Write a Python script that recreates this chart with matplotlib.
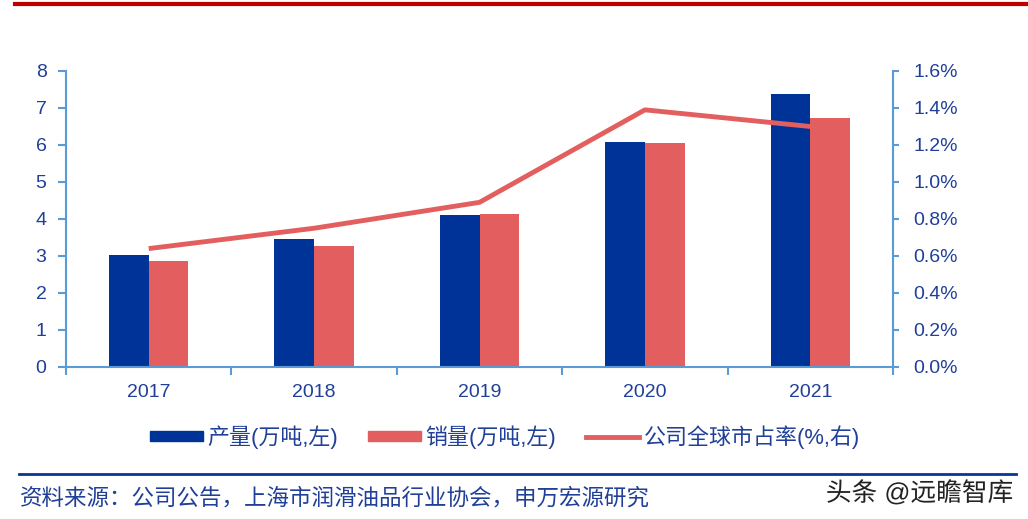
import matplotlib
matplotlib.use("Agg")
import matplotlib.pyplot as plt
from matplotlib.ticker import FuncFormatter
from matplotlib.patches import Patch
from matplotlib.lines import Line2D
import matplotlib.patheffects as pe
import numpy as np

plt.rcParams['font.family'] = ['Liberation Sans', 'Noto Sans CJK SC', 'DejaVu Sans']

years = ['2017', '2018', '2019', '2020', '2021']
production = [3.03, 3.46, 4.11, 6.08, 7.38]   # 产量(万吨)
sales = [2.87, 3.27, 4.14, 6.05, 6.73]        # 销量(万吨)
share = [0.64, 0.75, 0.89, 1.39, 1.30]        # 公司全球市占率(%)

BLUE = '#003397'
RED = '#E35F5F'
AXIS = '#5B9BD5'
TXT = '#1F3F99'

fig = plt.figure(figsize=(10.28, 5.19), dpi=100)
ax = fig.add_axes([0.0642, 0.2929, 0.8045, 0.5703])
ax2 = ax.twinx()

x = np.arange(len(years))
w = 0.24
ax.bar(x - w / 2, production, w, color=BLUE, zorder=2)
ax.bar(x + w / 2, sales, w, color=RED, zorder=2)
ax2.plot(x, share, color=RED, lw=3.5, solid_capstyle='butt', zorder=3)

ax.set_xlim(-0.5, 4.5)
ax.set_ylim(0, 8)
ax.set_yticks(range(0, 9))
ax2.set_ylim(0, 1.6)
ax2.set_yticks(np.arange(0, 1.61, 0.2))
ax2.yaxis.set_major_formatter(FuncFormatter(lambda v, p: f'{v:.1f}%'))

ax.set_xticks(x)
ax.set_xticklabels(years)
ax.set_xticks(np.arange(-0.5, 4.6, 1), minor=True)
ax.tick_params(axis='x', which='major', length=0, pad=12, labelsize=14, labelcolor=TXT)
ax.tick_params(axis='x', which='minor', length=6, color=AXIS, width=1.5, direction='out')
ax.tick_params(axis='y', length=6, color=AXIS, width=1.5, labelsize=14, labelcolor=TXT, pad=8)
ax2.tick_params(axis='y', length=4.5, color=AXIS, width=1.5, labelsize=14, labelcolor=TXT, pad=10)

for a in (ax, ax2):
    for s in a.spines.values():
        s.set_visible(False)
for a, side in ((ax, 'left'), (ax, 'bottom'), (ax2, 'right')):
    a.spines[side].set_visible(True)
    a.spines[side].set_color(AXIS)
    a.spines[side].set_linewidth(1.5)

handles = [Patch(color=BLUE), Patch(color=RED), Line2D([0], [0], color=RED, lw=3.5)]
labels = ['产量(万吨,左)', '销量(万吨,左)', '公司全球市占率(%,右)']
fig.legend(handles, labels, loc='center', bbox_to_anchor=(0.491, 0.158), ncol=3,
           frameon=False, fontsize=15.8, handlelength=2.42, handleheight=0.33,
           columnspacing=1.37, handletextpad=0.2, labelcolor=TXT)

# decorations
fig.add_artist(Line2D([0.0146, 1.0], [0.992, 0.992], color='#C00000', lw=3))
fig.add_artist(Line2D([0.0185, 0.988], [0.087, 0.087], color='#0A3591', lw=2))
fig.text(0.0195, 0.039, '资料来源：公司公告，上海市润滑油品行业协会，申万宏源研究',
         fontsize=16.2, color=TXT, va='center')
fig.text(0.986, 0.05, '头条 @远瞻智库', fontsize=18.5, color='#222222', va='center', ha='right',
         path_effects=[pe.withStroke(linewidth=2, foreground='white')])

fig.savefig('out.png', dpi=100)
